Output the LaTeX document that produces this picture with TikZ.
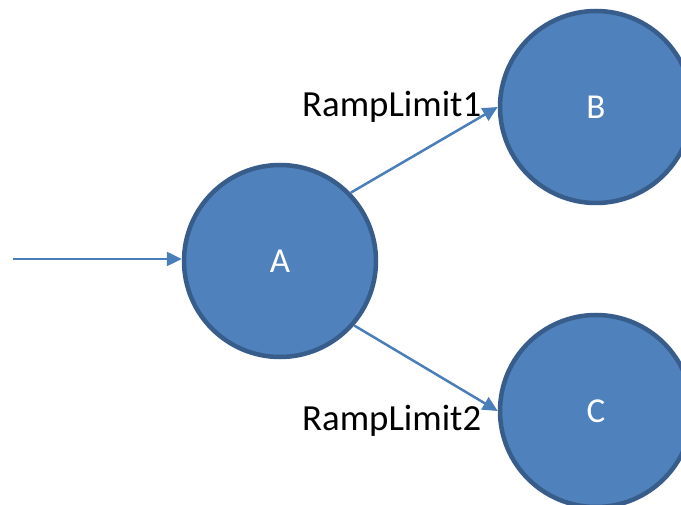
\documentclass[tikz,border=0pt]{standalone}
\usepackage{fontspec}
\setmainfont{Carlito}
\usetikzlibrary{arrows.meta}
\definecolor{nodefill}{HTML}{4F81BD}
\definecolor{nodeborder}{HTML}{385D8A}
\definecolor{edgecol}{HTML}{4A7EBB}
\begin{document}
\begin{tikzpicture}[x=1pt,y=-1pt,
  state/.style={circle, fill=nodefill, draw=nodeborder, line width=4.5pt, minimum size=192pt, inner sep=0pt, text=white, font=\fontsize{35}{40}\selectfont},
  edge/.style={draw=edgecol, line width=2.5pt, -{Triangle[length=15pt,width=14pt]}},
  lbl/.style={anchor=base west, inner sep=0pt, font=\fontsize{36.8}{42}\selectfont}]
\useasboundingbox (0,0) rectangle (681,505);
\clip (0,0) rectangle (681,505);
\node[state] (A) at (280,261) {A};
\node[state] (B) at (596,107) {B};
\node[state] (C) at (596,411) {C};
\coordinate (in) at (13,259);
\draw[edge] (in) -- (in -| A.west);
\draw[edge] (A.44) -- (B.west);
\draw[edge] (A.-41) -- (C.west);
\node[lbl] (l1) at (302,117) {RampLimit1};
\node[lbl] (l2) at (302,431) {RampLimit2};
\end{tikzpicture}
\end{document}
